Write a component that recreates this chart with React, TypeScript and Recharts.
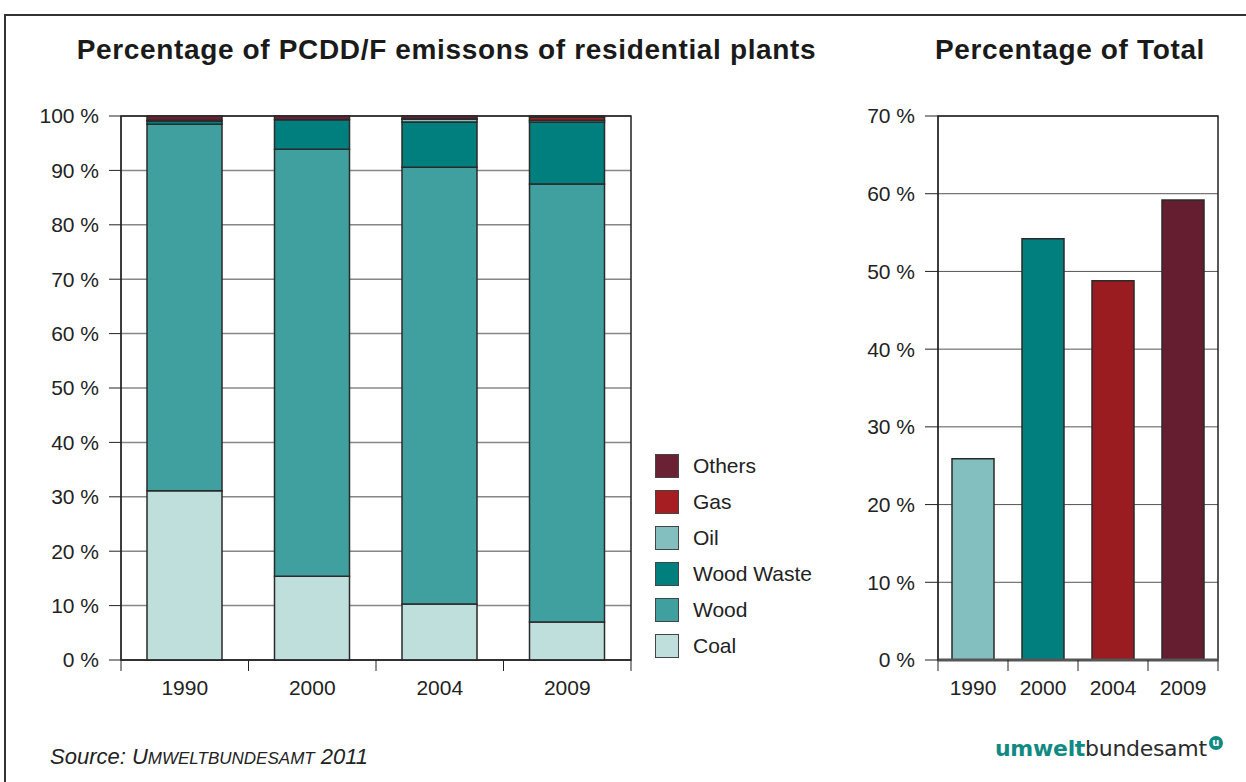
import React from "react";
import {
  BarChart,
  Bar,
  XAxis,
  YAxis,
  CartesianGrid,
  ReferenceArea,
  Legend,
  Cell,
} from "recharts";

// shares of the fuels per year (percent of PCDD/F emissions), stacked bottom to top
const YEARS = ["1990", "2000", "2004", "2009"];
const COAL = [31.1, 15.4, 10.3, 7.0];
const WOOD = [67.4, 78.5, 80.3, 80.5];
const WOOD_WASTE = [0.6, 5.4, 8.3, 11.4];
const OIL = [0.1, 0.0, 0.5, 0.3];
const GAS = [0.0, 0.0, 0.1, 0.6];
const OTHERS = [0.8, 0.7, 0.5, 0.2];

// residential plants as percentage of total
const TOTAL_SHARE = [25.9, 54.2, 48.8, 59.2];

const LEFT_TICKS = [0, 10, 20, 30, 40, 50, 60, 70, 80, 90, 100];
const RIGHT_TICKS = [0, 10, 20, 30, 40, 50, 60, 70];

const C = {
  coal: "#bfdfdd",
  wood: "#40a09f",
  woodWaste: "#007f7f",
  oil: "#82bfbe",
  gas: "#a61e22",
  others: "#6a2133",
};
const TOTAL_COLORS = [C.oil, C.woodWaste, "#9b1c20", "#651e2f"];

const SERIES = [
  { key: "coal", name: "Coal", values: COAL, color: C.coal },
  { key: "wood", name: "Wood", values: WOOD, color: C.wood },
  { key: "woodWaste", name: "Wood Waste", values: WOOD_WASTE, color: C.woodWaste },
  { key: "oil", name: "Oil", values: OIL, color: C.oil },
  { key: "gas", name: "Gas", values: GAS, color: C.gas },
  { key: "others", name: "Others", values: OTHERS, color: C.others },
];

const stackData = YEARS.map((year, i) => {
  const row: Record<string, string | number> = { year };
  SERIES.forEach((s) => (row[s.key] = s.values[i]));
  return row;
});
const totalData = YEARS.map((year, i) => ({ year, share: TOTAL_SHARE[i] }));

const FONT = "'Liberation Sans', Arial, Helvetica, sans-serif";
const tickStyle = { fontSize: 21, fill: "#222", fontFamily: FONT };

// year label centred in the band, tick marks on the band edges
function makeYearTick(fallbackHalf: number) {
  // eslint-disable-next-line @typescript-eslint/no-explicit-any
  return function YearTick({ x, y, payload, index, visibleTicksCount }: any) {
    const half = payload?.offset ?? fallbackHalf;
    const last = index === visibleTicksCount - 1;
    return (
      <g>
        <line x1={x - half} x2={x - half} y1={y} y2={y + 11} stroke="#222" />
        {last && <line x1={x + half} x2={x + half} y1={y} y2={y + 11} stroke="#222" />}
        <text
          x={x}
          y={y + 35}
          textAnchor="middle"
          fontSize={21}
          fill="#222"
          fontFamily={FONT}
        >
          {payload.value}
        </text>
      </g>
    );
  };
}
const LeftYearTick = makeYearTick(63.75);
const RightYearTick = makeYearTick(35);

// eslint-disable-next-line @typescript-eslint/no-explicit-any
function LegendBox({ payload }: any) {
  const order = SERIES.map((s) => s.name).reverse();
  const items = [...(payload || [])].sort(
    (a: any, b: any) => order.indexOf(a.value) - order.indexOf(b.value)
  );
  return (
    <div style={{ fontFamily: FONT, fontSize: 21, color: "#222" }}>
      {items.map((p: any) => (
        <div key={p.value} style={{ display: "flex", alignItems: "center", height: 36 }}>
          <span
            style={{
              width: 22,
              height: 22,
              background: p.color,
              border: "1.5px solid #444",
              marginRight: 14,
            }}
          />
          <span>{p.value}</span>
        </div>
      ))}
    </div>
  );
}

const pctFmt = (v: number) => `${v} %`;

const titleStyle: React.CSSProperties = {
  position: "absolute",
  top: 34,
  textAlign: "center",
  fontSize: 28,
  fontWeight: 700,
  letterSpacing: 0.65,
  color: "#1a1a1a",
  whiteSpace: "nowrap",
};

export default function App() {
  return (
    <div
      style={{
        position: "absolute",
        left: 0,
        top: 0,
        width: 1246,
        height: 782,
        overflow: "hidden",
        background: "#fff",
        fontFamily: FONT,
      }}
    >
      <div style={{ ...titleStyle, left: 0, width: 893 }}>
        Percentage of PCDD/F emissons of residential plants
      </div>
      <div style={{ ...titleStyle, left: 920, width: 300 }}>Percentage of Total</div>

      <div style={{ position: "absolute", left: 0, top: 0 }}>
        <BarChart
          width={840}
          height={700}
          data={stackData}
          margin={{ top: 116, right: 209, bottom: 0, left: 0 }}
        >
          <CartesianGrid vertical={false} stroke="#888" strokeWidth={1.5} />
          <XAxis
            dataKey="year"
            height={40}
            axisLine={{ stroke: "#222" }}
            tickLine={false}
            tickSize={0}
            tickMargin={0}
            tick={<LeftYearTick />}
          />
          <YAxis
            width={121}
            domain={[0, 100]}
            ticks={LEFT_TICKS}
            tickFormatter={pctFmt}
            tickSize={12}
            tickMargin={10}
            tick={tickStyle}
            axisLine={{ stroke: "#222" }}
            tickLine={{ stroke: "#222" }}
          />
          <ReferenceArea
            y1={0}
            y2={100}
            fill="none"
            fillOpacity={0}
            stroke="#222"
            strokeWidth={1.5}
            ifOverflow="visible"
          />
          {SERIES.map((s) => (
            <Bar
              key={s.key}
              dataKey={s.key}
              name={s.name}
              stackId="a"
              fill={s.color}
              stroke="#2a2a2a"
              strokeWidth={1.5}
              barSize={75}
              isAnimationActive={false}
            />
          ))}
          <Legend
            layout="vertical"
            align="center"
            verticalAlign="middle"
            content={<LegendBox />}
            wrapperStyle={{ left: 655, top: 448, width: 200, height: 220 }}
          />
        </BarChart>
      </div>

      <div style={{ position: "absolute", left: 838, top: 0 }}>
        <BarChart
          width={400}
          height={700}
          data={totalData}
          margin={{ top: 116, right: 20, bottom: 0, left: 0 }}
        >
          <CartesianGrid vertical={false} stroke="#555" />
          <XAxis
            dataKey="year"
            height={40}
            axisLine={{ stroke: "#555", strokeWidth: 3 }}
            tickLine={false}
            tickSize={0}
            tickMargin={0}
            tick={<RightYearTick />}
          />
          <YAxis
            width={100}
            domain={[0, 70]}
            ticks={RIGHT_TICKS}
            tickFormatter={pctFmt}
            tickSize={13}
            tickMargin={10}
            tick={tickStyle}
            axisLine={{ stroke: "#222" }}
            tickLine={{ stroke: "#222" }}
          />
          <ReferenceArea
            y1={0}
            y2={70}
            fill="none"
            fillOpacity={0}
            stroke="#222"
            strokeWidth={1.5}
            ifOverflow="visible"
          />
          <Bar
            dataKey="share"
            stroke="#2a2a2a"
            strokeWidth={1.5}
            barSize={42}
            isAnimationActive={false}
          >
            {totalData.map((d, i) => (
              <Cell key={d.year} fill={TOTAL_COLORS[i]} />
            ))}
          </Bar>
        </BarChart>
      </div>

      <div
        style={{
          position: "absolute",
          left: 50,
          top: 744,
          fontSize: 22,
          fontStyle: "italic",
          color: "#222",
        }}
      >
        Source: U<span style={{ fontSize: 17 }}>MWELTBUNDESAMT</span> 2011
      </div>

      <div
        style={{
          position: "absolute",
          left: 995,
          top: 736,
          fontSize: 22,
          fontFamily: "'DejaVu Sans', sans-serif",
          color: "#2b2b2b",
          letterSpacing: -0.3,
          whiteSpace: "nowrap",
        }}
      >
        <span style={{ color: "#118a83", fontWeight: 700 }}>umwelt</span>
        <span>bundesamt</span>
        <span
          style={{
            display: "inline-block",
            width: 14,
            height: 14,
            borderRadius: "50%",
            background: "#118a83",
            color: "#fff",
            fontSize: 10,
            fontWeight: 700,
            lineHeight: "13px",
            textAlign: "center",
            verticalAlign: "top",
            marginLeft: 2,
          }}
        >
          u
        </span>
      </div>

      {/* outer frame: top and left edges */}
      <div
        style={{
          position: "absolute",
          left: 4,
          top: 14,
          width: 1242,
          height: 2,
          background: "#333",
          zIndex: 5,
        }}
      />
      <div
        style={{
          position: "absolute",
          left: 4,
          top: 14,
          width: 2,
          height: 768,
          background: "#333",
          zIndex: 5,
        }}
      />
    </div>
  );
}
